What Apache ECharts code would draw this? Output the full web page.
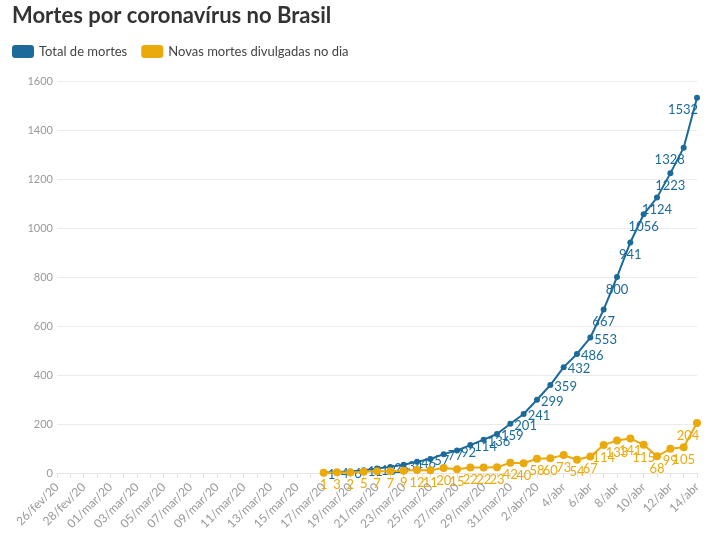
<!DOCTYPE html>
<html>
<head>
<meta charset="utf-8">
<script src="https://cdn.jsdelivr.net/npm/echarts@6/dist/echarts.min.js"></script>
<style>
  html, body { margin: 0; padding: 0; background: #fff; }
  #chart { width: 710px; height: 535px; }
</style>
</head>
<body>
<div id="chart"></div>
<script>
// dias de 26/fev/20 a 14/abr
const days = [
  '26/fev/20','27/fev/20','28/fev/20','29/fev/20',
  '01/mar/20','02/mar/20','03/mar/20','04/mar/20','05/mar/20','06/mar/20','07/mar/20','08/mar/20',
  '09/mar/20','10/mar/20','11/mar/20','12/mar/20','13/mar/20','14/mar/20','15/mar/20','16/mar/20',
  '17/mar/20','18/mar/20','19/mar/20','20/mar/20','21/mar/20','22/mar/20','23/mar/20','24/mar/20',
  '25/mar/20','26/mar/20','27/mar/20','28/mar/20','29/mar/20','30/mar/20','31/mar/20',
  '1/abr/20','2/abr/20','3/abr','4/abr','5/abr','6/abr','7/abr','8/abr','9/abr','10/abr',
  '11/abr','12/abr','13/abr','14/abr'
];
// a partir de 17/mar
const totalDeaths = [1, 4, 6, 11, 18, 25, 34, 46, 57, 77, 92, 114, 136, 159, 201, 241, 299, 359,
  432, 486, 553, 667, 800, 941, 1056, 1124, 1223, 1328, 1532];
const newDeaths = [1, 3, 2, 5, 7, 7, 9, 12, 11, 20, 15, 22, 22, 23, 42, 40, 58, 60,
  73, 54, 67, 114, 133, 141, 115, 68, 99, 105, 204];

const BLUE = '#1c6a9a';
const ORANGE = '#ebaa0c';
const pad = days.length - totalDeaths.length;
const lead = new Array(pad).fill(null);

const blueData = lead.concat(totalDeaths.map((v, i) => {
  let label = { position: v < 600 ? 'right' : 'bottom', offset: v < 600 ? [-2, 2] : [0, 0] };
  if (i >= totalDeaths.length - 2) label = { position: 'bottom', offset: [-14, 0] };
  return { value: v, label };
}));
const orangeData = lead.concat(newDeaths.map((v, i) => {
  let label = { position: 'bottom' };
  if (i === newDeaths.length - 1) label = { position: 'bottom', offset: [-9, 0] };
  return { value: v, label };
}));

const chart = echarts.init(document.getElementById('chart'));
chart.setOption({
  animation: false,
  textStyle: { fontFamily: 'Lato' },
  title: {
    text: 'Mortes por coronavírus no Brasil',
    left: 7,
    top: 0,
    textStyle: { fontSize: 22, fontWeight: 'bold', color: '#333', fontFamily: 'Lato' }
  },
  legend: {
    left: 7,
    top: 40,
    itemWidth: 22,
    itemHeight: 13,
    itemGap: 14,
    icon: 'roundRect',
    textStyle: { fontSize: 13, color: '#444', fontFamily: 'Lato' },
    data: ['Total de mortes', 'Novas mortes divulgadas no dia']
  },
  grid: { left: 57, right: 13, top: 81, bottom: 62 },
  xAxis: {
    type: 'category',
    boundaryGap: false,
    data: days,
    axisLine: { lineStyle: { color: '#e3e3e3' } },
    axisTick: { show: true, interval: 0, length: 5, lineStyle: { color: '#e3e3e3' } },
    axisLabel: { interval: 1, rotate: 45, color: '#999', fontSize: 12, margin: 12 }
  },
  yAxis: {
    type: 'value',
    min: 0,
    max: 1600,
    interval: 200,
    axisLine: { show: false },
    axisTick: { show: false },
    axisLabel: { color: '#999', fontSize: 11, margin: 4, formatter: v => String(v) },
    splitLine: { lineStyle: { color: '#ebebeb' } }
  },
  series: [
    {
      name: 'Total de mortes',
      type: 'line',
      data: blueData,
      color: BLUE,
      symbol: 'circle',
      symbolSize: 6,
      lineStyle: { width: 2, color: BLUE },
      itemStyle: { color: BLUE },
      label: { show: true, color: BLUE, fontSize: 13, distance: 3 },
      z: 3
    },
    {
      name: 'Novas mortes divulgadas no dia',
      type: 'line',
      data: orangeData,
      color: ORANGE,
      symbol: 'circle',
      symbolSize: 8,
      lineStyle: { width: 2, color: ORANGE },
      itemStyle: { color: ORANGE },
      label: { show: true, color: ORANGE, fontSize: 13, distance: 2 },
      z: 4
    }
  ]
});
</script>
</body>
</html>
